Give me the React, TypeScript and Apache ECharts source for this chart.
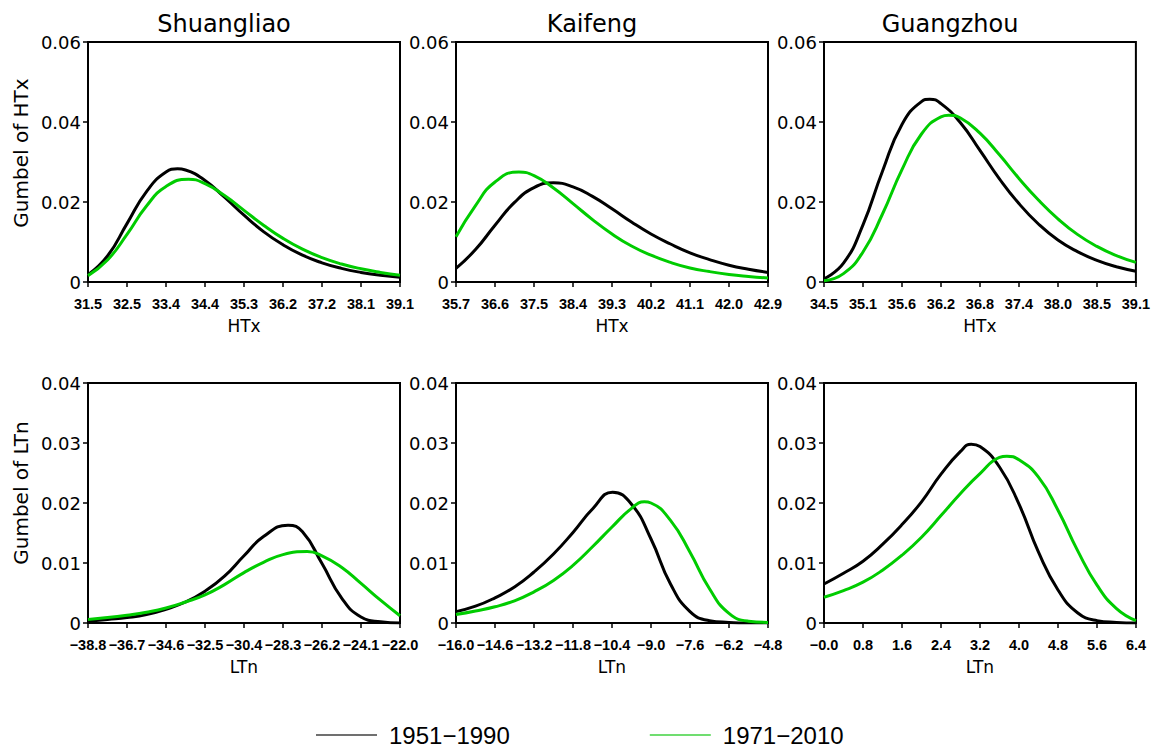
import React, { useEffect, useRef } from "react";
import * as echarts from "echarts";

// ---------- data ----------
const stations = ["Shuangliao", "Kaifeng", "Guangzhou"];
const periods = ["1951−1990", "1971−2010"];
const yNames = ["Gumbel of HTx", "Gumbel of LTn"];
const xNames = ["HTx", "LTn"];

// Shuangliao HTx
const shuangliaoHTxX = [31.5, 31.975, 32.45, 32.925, 33.4, 33.875, 34.35, 34.825, 35.3, 35.775, 36.25, 36.725, 37.2, 37.675, 38.15, 38.625, 39.1];
const shuangliaoHTx1951 = [0.0018, 0.0065, 0.0146, 0.0226, 0.0275, 0.028, 0.0254, 0.0212, 0.0167, 0.0126, 0.0093, 0.0067, 0.0048, 0.0034, 0.0024, 0.0017, 0.0012];
const shuangliaoHTx1971 = [0.0016, 0.0055, 0.0119, 0.019, 0.0239, 0.0256, 0.0246, 0.0216, 0.0179, 0.0142, 0.0109, 0.0082, 0.0061, 0.0045, 0.0033, 0.0024, 0.0017];
const shuangliaoHTxPeak1951 = [33.68, 0.0283];
const shuangliaoHTxPeak1971 = [33.95, 0.0257];
const shuangliaoHTxTicks = [31.5, 32.45, 33.4, 34.35, 35.3, 36.25, 37.2, 38.15, 39.1];
const shuangliaoHTxLabels = ["31.5", "32.5", "33.4", "34.4", "35.3", "36.2", "37.2", "38.1", "39.1"];

// Kaifeng HTx
const kaifengHTxX = [35.7, 36.15, 36.6, 37.05, 37.5, 37.95, 38.4, 38.85, 39.3, 39.75, 40.2, 40.65, 41.1, 41.55, 42.0, 42.45, 42.9];
const kaifengHTx1951 = [0.0034, 0.0081, 0.0142, 0.0199, 0.0236, 0.0248, 0.0238, 0.0214, 0.0183, 0.015, 0.012, 0.0095, 0.0073, 0.0056, 0.0042, 0.0032, 0.0024];
const kaifengHTx1971 = [0.0113, 0.0191, 0.025, 0.0274, 0.0266, 0.0235, 0.0196, 0.0156, 0.012, 0.009, 0.0067, 0.0049, 0.0035, 0.0026, 0.0019, 0.0014, 0.001];
const kaifengHTxPeak1951 = [37.95, 0.0248];
const kaifengHTxPeak1971 = [37.15, 0.0275];
const kaifengHTxTicks = [35.7, 36.6, 37.5, 38.4, 39.3, 40.2, 41.1, 42.0, 42.9];
const kaifengHTxLabels = ["35.7", "36.6", "37.5", "38.4", "39.3", "40.2", "41.1", "42.0", "42.9"];

// Guangzhou HTx
const guangzhouHTxX = [34.5, 34.7875, 35.075, 35.3625, 35.65, 35.9375, 36.225, 36.5125, 36.8, 37.0875, 37.375, 37.6625, 37.95, 38.2375, 38.525, 38.8125, 39.1];
const guangzhouHTx1951 = [0.0008, 0.0047, 0.0143, 0.0277, 0.0394, 0.0451, 0.0446, 0.0398, 0.0329, 0.0258, 0.0196, 0.0145, 0.0105, 0.0076, 0.0054, 0.0038, 0.0027];
const guangzhouHTx1971 = [0.0003, 0.0021, 0.0075, 0.017, 0.0281, 0.037, 0.0413, 0.041, 0.0372, 0.0318, 0.0259, 0.0205, 0.0158, 0.0119, 0.0089, 0.0066, 0.0049];
const guangzhouHTxPeak1951 = [36.06, 0.0457];
const guangzhouHTxPeak1971 = [36.34, 0.0417];
const guangzhouHTxTicks = [34.5, 35.075, 35.65, 36.225, 36.8, 37.375, 37.95, 38.525, 39.1];
const guangzhouHTxLabels = ["34.5", "35.1", "35.6", "36.2", "36.8", "37.4", "38.0", "38.5", "39.1"];

// Shuangliao LTn
const shuangliaoLTnX = [-38.8, -37.75, -36.7, -35.65, -34.6, -33.55, -32.5, -31.45, -30.4, -29.35, -28.3, -27.25, -26.2, -25.15, -24.1, -23.05, -22.0];
const shuangliaoLTn1951 = [0.0003, 0.0006, 0.0009, 0.0014, 0.0023, 0.0035, 0.0053, 0.0078, 0.0112, 0.0144, 0.016, 0.0152, 0.0099, 0.0042, 0.001, 0.0002, 0.0];
const shuangliaoLTn1971 = [0.0006, 0.0009, 0.0013, 0.0018, 0.0025, 0.0035, 0.0047, 0.0064, 0.0084, 0.0101, 0.0114, 0.0118, 0.0112, 0.0093, 0.0066, 0.0038, 0.0012];
const shuangliaoLTnPeak1951 = [-28.03, 0.0163];
const shuangliaoLTnPeak1971 = [-27.0, 0.0119];
const shuangliaoLTnTicks = [-38.8, -36.7, -34.6, -32.5, -30.4, -28.3, -26.2, -24.1, -22.0];
const shuangliaoLTnLabels = ["−38.8", "−36.7", "−34.6", "−32.5", "−30.4", "−28.3", "−26.2", "−24.1", "−22.0"];

// Kaifeng LTn
const kaifengLTnX = [-16.0, -15.3, -14.6, -13.9, -13.2, -12.5, -11.8, -11.1, -10.4, -9.7, -9.0, -8.3, -7.6, -6.9, -6.2, -5.5, -4.8];
const kaifengLTn1951 = [0.0019, 0.0028, 0.0042, 0.006, 0.0085, 0.0115, 0.0151, 0.019, 0.0217, 0.0198, 0.014, 0.0065, 0.0019, 0.0004, 0.0001, 0.0, 0.0];
const kaifengLTn1971 = [0.0014, 0.002, 0.0027, 0.0037, 0.0052, 0.0071, 0.0096, 0.0127, 0.016, 0.0191, 0.02, 0.0171, 0.0118, 0.0057, 0.0016, 0.0003, 0.0001];
const kaifengLTnPeak1951 = [-10.38, 0.0218];
const kaifengLTnPeak1971 = [-9.24, 0.0202];
const kaifengLTnTicks = [-16.0, -14.6, -13.2, -11.8, -10.4, -9.0, -7.6, -6.2, -4.8];
const kaifengLTnLabels = ["−16.0", "−14.6", "−13.2", "−11.8", "−10.4", "−9.0", "−7.6", "−6.2", "−4.8"];

// Guangzhou LTn
const guangzhouLTnX = [0, 0.4, 0.8, 1.2, 1.6, 2.0, 2.4, 2.8, 3.2, 3.6, 4.0, 4.4, 4.8, 5.2, 5.6, 6.0, 6.4];
const guangzhouLTn1951 = [0.0065, 0.0083, 0.0103, 0.0131, 0.0164, 0.0202, 0.0248, 0.0286, 0.0294, 0.026, 0.0198, 0.0118, 0.0055, 0.0017, 0.0004, 0.0001, 0.0];
const guangzhouLTn1971 = [0.0043, 0.0054, 0.0068, 0.0088, 0.0113, 0.0143, 0.0179, 0.0216, 0.0249, 0.0276, 0.0272, 0.0243, 0.0188, 0.0121, 0.0063, 0.0024, 0.0004];
const guangzhouLTnPeak1951 = [3.02, 0.0298];
const guangzhouLTnPeak1971 = [3.75, 0.0278];
const guangzhouLTnTicks = [0, 0.8, 1.6, 2.4, 3.2, 4.0, 4.8, 5.6, 6.4];
const guangzhouLTnLabels = ["−0.0", "0.8", "1.6", "2.4", "3.2", "4.0", "4.8", "5.6", "6.4"];

const yTicksHTx = [0, 0.02, 0.04, 0.06];
const yLabelsHTx = ["0", "0.02", "0.04", "0.06"];
const yTicksLTn = [0, 0.01, 0.02, 0.03, 0.04];
const yLabelsLTn = ["0", "0.01", "0.02", "0.03", "0.04"];

// ---------- layout / style ----------
const colors = ["#000000", "#00cc00"];
const lefts = [88, 456, 824];
const tops = [42, 383];
const W = 312;
const H = 240;

const panels = [
  { xs: shuangliaoHTxX, a: shuangliaoHTx1951, b: shuangliaoHTx1971, pa: shuangliaoHTxPeak1951, pb: shuangliaoHTxPeak1971, ticks: shuangliaoHTxTicks, labels: shuangliaoHTxLabels, row: 0, col: 0 },
  { xs: kaifengHTxX, a: kaifengHTx1951, b: kaifengHTx1971, pa: kaifengHTxPeak1951, pb: kaifengHTxPeak1971, ticks: kaifengHTxTicks, labels: kaifengHTxLabels, row: 0, col: 1 },
  { xs: guangzhouHTxX, a: guangzhouHTx1951, b: guangzhouHTx1971, pa: guangzhouHTxPeak1951, pb: guangzhouHTxPeak1971, ticks: guangzhouHTxTicks, labels: guangzhouHTxLabels, row: 0, col: 2 },
  { xs: shuangliaoLTnX, a: shuangliaoLTn1951, b: shuangliaoLTn1971, pa: shuangliaoLTnPeak1951, pb: shuangliaoLTnPeak1971, ticks: shuangliaoLTnTicks, labels: shuangliaoLTnLabels, row: 1, col: 0 },
  { xs: kaifengLTnX, a: kaifengLTn1951, b: kaifengLTn1971, pa: kaifengLTnPeak1951, pb: kaifengLTnPeak1971, ticks: kaifengLTnTicks, labels: kaifengLTnLabels, row: 1, col: 1 },
  { xs: guangzhouLTnX, a: guangzhouLTn1951, b: guangzhouLTn1971, pa: guangzhouLTnPeak1951, pb: guangzhouLTnPeak1971, ticks: guangzhouLTnTicks, labels: guangzhouLTnLabels, row: 1, col: 2 },
];

function lookup(vals: number[], labels: string[], v: number) {
  let best = 0;
  for (let i = 1; i < vals.length; i++) {
    if (Math.abs(vals[i] - v) < Math.abs(vals[best] - v)) best = i;
  }
  return labels[best];
}

// read samples plus the read peak point, ordered by x; a sample lying very
// close to the peak is replaced by the peak so the curve stays smooth
function points(xs: number[], ys: number[], peak: number[]) {
  const step = Math.abs(xs[1] - xs[0]);
  let near = 0;
  xs.forEach((x, j) => { if (Math.abs(x - peak[0]) < Math.abs(xs[near] - peak[0])) near = j; });
  const pts = xs.map((x, j) => [x, ys[j]]);
  if (Math.abs(xs[near] - peak[0]) <= 0.3 * step) pts[near] = [peak[0], peak[1]];
  else pts.push([peak[0], peak[1]]);
  return pts.sort((u, v) => u[0] - v[0]);
}

function buildOption() {
  const grid: any[] = [];
  const xAxis: any[] = [];
  const yAxis: any[] = [];
  const series: any[] = [];
  panels.forEach((p, i) => {
    grid.push({
      left: lefts[p.col],
      top: tops[p.row],
      width: W,
      height: H,
      show: true,
      borderColor: "#000",
      borderWidth: 2,
      backgroundColor: "transparent",
      containLabel: false,
    });
    xAxis.push({
      type: "value",
      gridIndex: i,
      min: p.xs[0],
      max: p.xs[p.xs.length - 1],
      axisLine: { show: false },
      splitLine: { show: false },
      axisTick: { show: true, inside: false, length: 5, customValues: p.ticks, lineStyle: { color: "#000", width: 1.5 } },
      axisLabel: {
        show: true,
        customValues: p.ticks,
        showMinLabel: true,
        showMaxLabel: true,
        hideOverlap: false,
        margin: 14,
        color: "#000",
        fontFamily: "Liberation Sans",
        fontWeight: "bold",
        fontSize: 14.5,
        formatter: (v: number) => lookup(p.ticks, p.labels, v),
      },
      name: xNames[p.row],
      nameLocation: "middle",
      nameGap: 35,
      nameTextStyle: { color: "#000", fontFamily: "DejaVu Sans", fontSize: 17 },
    });
    const yt = p.row === 0 ? yTicksHTx : yTicksLTn;
    const yl = p.row === 0 ? yLabelsHTx : yLabelsLTn;
    yAxis.push({
      type: "value",
      gridIndex: i,
      min: 0,
      max: yt[yt.length - 1],
      interval: yt[1] - yt[0],
      axisLine: { show: false },
      splitLine: { show: false },
      axisTick: { show: true, inside: false, length: 5, lineStyle: { color: "#000", width: 1.5 } },
      axisLabel: {
        show: true,
        margin: 7,
        color: "#000",
        fontFamily: "DejaVu Sans",
        fontSize: 18,
        showMinLabel: true,
        showMaxLabel: true,
        formatter: (v: number) => lookup(yt, yl, v),
      },
    });
    [[p.a, p.pa], [p.b, p.pb]].forEach(([ys, pk], k) => {
      series.push({
        type: "line",
        name: periods[k],
        xAxisIndex: i,
        yAxisIndex: i,
        data: points(p.xs, ys as number[], pk as number[]),
        symbol: "none",
        showSymbol: false,
        smooth: 0.5,
        clip: true,
        lineStyle: { color: colors[k], width: 3 },
        itemStyle: { color: colors[k] },
        z: 2 + k,
      });
    });
  });

  const titleX = [224, 592, 950];
  const graphic: any[] = [];
  stations.forEach((s, c) => {
    graphic.push({
      type: "text",
      x: titleX[c],
      y: 24,
      style: { text: s, fill: "#000", font: "24px 'DejaVu Sans'", textAlign: "center", textVerticalAlign: "middle" },
    });
  });
  const nameY = [153, 493];
  yNames.forEach((n, r) => {
    graphic.push({
      type: "text",
      x: 21,
      y: nameY[r],
      rotation: Math.PI / 2,
      style: { text: n, fill: "#000", font: "20px 'DejaVu Sans'", textAlign: "center", textVerticalAlign: "middle" },
    });
  });

  return {
    animation: false,
    backgroundColor: "#fff",
    grid,
    xAxis,
    yAxis,
    series,
    graphic,
    legend: {
      left: 311,
      top: 718,
      itemWidth: 61,
      itemHeight: 2,
      itemGap: 140,
      selectedMode: false,
      data: [
        { name: periods[0], icon: "rect", itemStyle: { color: "#707070" } },
        { name: periods[1], icon: "rect", itemStyle: { color: "#70dd70" } },
      ],
      textStyle: { color: "#000", fontFamily: "Liberation Sans", fontSize: 24, padding: [0, 0, 0, 7] },
    },
  };
}

export default function App() {
  const ref = useRef<HTMLDivElement>(null);
  useEffect(() => {
    if (!ref.current) return;
    const chart = echarts.init(ref.current, null, { renderer: "svg" });
    chart.setOption(buildOption() as any);
    return () => chart.dispose();
  }, []);
  return (
    <div
      ref={ref}
      style={{ position: "fixed", left: 0, top: 0, width: 1153, height: 750, background: "#fff" }}
    />
  );
}
